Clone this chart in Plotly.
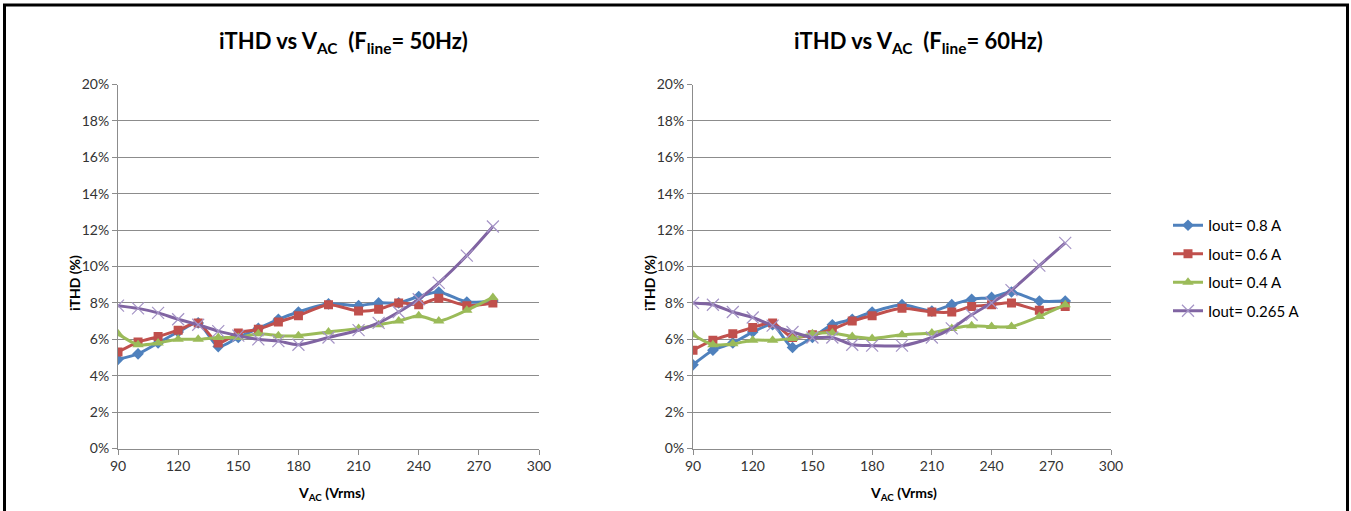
import plotly.graph_objects as go

W, H = 1351, 511

# ---- data ----
vac = [90, 100, 110, 120, 130, 140, 150, 160, 170, 180, 195, 210, 220, 230, 240, 250, 264, 277]
series_names = ["Iout= 0.8 A", "Iout= 0.6 A", "Iout= 0.4 A", "Iout= 0.265 A"]

ithd50_08 = [4.9, 5.2, 5.8, 6.4, 6.9, 5.6, 6.1, 6.6, 7.1, 7.5, 7.95, 7.85, 8.0, 8.0, 8.35, 8.6, 8.05, 8.1]
ithd50_06 = [5.3, 5.85, 6.15, 6.5, 6.9, 5.8, 6.35, 6.55, 6.95, 7.3, 7.9, 7.55, 7.65, 8.0, 7.9, 8.25, 7.85, 8.0]
ithd50_04 = [6.3, 5.7, 5.8, 6.0, 6.0, 6.1, 6.1, 6.3, 6.2, 6.2, 6.4, 6.6, 6.8, 7.0, 7.3, 7.0, 7.6, 8.3]
ithd50_0265 = [7.85, 7.7, 7.45, 7.1, 6.8, 6.45, 6.2, 6.0, 5.9, 5.7, 6.1, 6.5, 6.9, 7.5, 8.2, 9.1, 10.6, 12.2]

ithd60_08 = [4.6, 5.4, 5.8, 6.4, 6.8, 5.55, 6.1, 6.8, 7.1, 7.5, 7.9, 7.55, 7.9, 8.2, 8.3, 8.6, 8.1, 8.1]
ithd60_06 = [5.4, 5.95, 6.3, 6.65, 6.9, 6.1, 6.25, 6.55, 7.0, 7.3, 7.7, 7.5, 7.5, 7.8, 7.9, 8.0, 7.6, 7.8]
ithd60_04 = [6.25, 5.7, 5.75, 5.95, 5.95, 6.05, 6.3, 6.35, 6.15, 6.05, 6.25, 6.35, 6.6, 6.75, 6.7, 6.7, 7.25, 7.9]
ithd60_0265 = [8.0, 7.9, 7.5, 7.2, 6.75, 6.4, 6.1, 6.1, 5.7, 5.65, 5.65, 6.1, 6.6, 7.35, 8.0, 8.7, 10.05, 11.3]

x_ticks = [90, 120, 150, 180, 210, 240, 270, 300]
y_ticks = [0, 2, 4, 6, 8, 10, 12, 14, 16, 18, 20]
y_tick_labels = [f"{v}%" for v in y_ticks]

# ---- styles ----
FONT = "Lato, 'Open Sans', 'Liberation Sans', sans-serif"
colors = ["#4F81BD", "#C0504D", "#9BBB59", "#8064A2"]
symbols = ["diamond", "square", "triangle-up", "x-thin"]
msizes = [9, 9, 10, 12]

fig = go.Figure()

data50 = [ithd50_08, ithd50_06, ithd50_04, ithd50_0265]
data60 = [ithd60_08, ithd60_06, ithd60_04, ithd60_0265]

def marker_for(i):
    if symbols[i] == "x-thin":
        return dict(symbol="x-thin", size=msizes[i], color="#A594C6",
                    line=dict(width=1.2, color="#A594C6"))
    return dict(symbol=symbols[i], size=msizes[i], color=colors[i],
                line=dict(width=0))

for axis_idx, dataset in enumerate([data50, data60]):
    xa = "x" if axis_idx == 0 else "x2"
    ya = "y" if axis_idx == 0 else "y2"
    for i, ys in enumerate(dataset):
        fig.add_trace(go.Scatter(
            x=vac, y=ys, mode="lines+markers", name=series_names[i],
            line=dict(color=colors[i], width=3, shape="spline", smoothing=0.7),
            marker=marker_for(i),
            xaxis=xa, yaxis=ya,
            legendgroup=f"g{i}",
            showlegend=(axis_idx == 1),
        ))

def px_x(p):
    return p / W

def px_y(p):
    return 1 - p / H

ydom = [px_y(448.5), px_y(84.5)]
grid_c = "#8C8C8C"
tick_font = dict(family=FONT, size=14, color="#333333")

common_x = dict(range=[90, 300], tickvals=x_ticks, ticks="outside", ticklen=5,
                tickcolor=grid_c, showline=True, linecolor=grid_c, linewidth=1,
                showgrid=False, zeroline=False, tickfont=tick_font, fixedrange=True,
                automargin=False)
common_y = dict(range=[0, 20], tickvals=y_ticks, ticktext=y_tick_labels,
                ticks="outside", ticklen=5, tickcolor=grid_c, showline=True,
                linecolor=grid_c, linewidth=1, showgrid=True, gridcolor=grid_c,
                gridwidth=1, zeroline=False, tickfont=tick_font, fixedrange=True,
                automargin=False)

fig.update_layout(
    template="none",
    width=W, height=H, autosize=False,
    margin=dict(l=0, r=0, t=0, b=0, pad=0, autoexpand=False),
    paper_bgcolor="white", plot_bgcolor="white",
    font=dict(family=FONT, color="#000000"),
    xaxis=dict(domain=[px_x(118), px_x(539)], anchor="y", **common_x),
    yaxis=dict(domain=ydom, anchor="x", **common_y),
    xaxis2=dict(domain=[px_x(693), px_x(1111)], anchor="y2", **common_x),
    yaxis2=dict(domain=ydom, anchor="x2", **common_y),
    legend=dict(x=px_x(1168), y=px_y(209), xanchor="left", yanchor="top",
                font=dict(family=FONT, size=15, color="#000000"),
                traceorder="grouped", tracegroupgap=6, bgcolor="rgba(0,0,0,0)",
                borderwidth=0, itemwidth=30),
    showlegend=True,
)

annotations = [
    dict(text="<b>iTHD vs V<sub>AC</sub>  (F<sub>line</sub>= 50Hz)</b>", x=px_x(343), y=px_y(42),
         font=dict(family=FONT, size=22, color="#000000")),
    dict(text="<b>iTHD vs V<sub>AC</sub>  (F<sub>line</sub>= 60Hz)</b>", x=px_x(918), y=px_y(42),
         font=dict(family=FONT, size=22, color="#000000")),
    dict(text="<b>V<sub>AC</sub> (Vrms)</b>", x=px_x(331), y=px_y(493),
         font=dict(family=FONT, size=14, color="#000000")),
    dict(text="<b>V<sub>AC</sub> (Vrms)</b>", x=px_x(903), y=px_y(493),
         font=dict(family=FONT, size=14, color="#000000")),
    dict(text="<b>iTHD (%)</b>", x=px_x(74), y=px_y(283), textangle=-90,
         font=dict(family=FONT, size=14, color="#000000")),
    dict(text="<b>iTHD (%)</b>", x=px_x(649), y=px_y(283), textangle=-90,
         font=dict(family=FONT, size=14, color="#000000")),
]
for a in annotations:
    a.update(xref="paper", yref="paper", showarrow=False, xanchor="center", yanchor="middle")
fig.update_layout(annotations=annotations)

fig.add_shape(type="rect", xref="paper", yref="paper",
              x0=px_x(4.5), x1=px_x(1347.5), y0=px_y(530), y1=px_y(5),
              line=dict(color="black", width=3), fillcolor="rgba(0,0,0,0)", layer="above")

fig.write_html(
    "out.html",
    config={"displayModeBar": False, "responsive": False},
    post_script="document.body.style.margin='0';document.body.style.padding='0';"
                "document.body.style.overflow='hidden';"
                "document.documentElement.style.overflow='hidden';",
)
